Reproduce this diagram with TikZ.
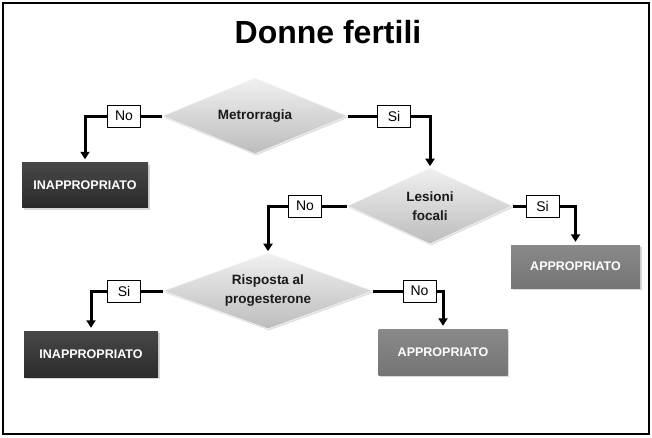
\documentclass[tikz,border=0pt]{standalone}
\usepackage{fontspec}
\setmainfont{Liberation Sans}
\usetikzlibrary{shapes.geometric,arrows.meta,shadows}
\definecolor{darkbox}{HTML}{333333}
\definecolor{graybox}{HTML}{7F7F7F}
\definecolor{dtext}{HTML}{1A1A1A}
\tikzset{
  decision/.style={diamond, aspect=2.45, inner sep=0pt, align=center,
    top color=gray!12, bottom color=gray!52, draw=gray!8, line width=0.6pt,
    drop shadow={shadow xshift=1pt, shadow yshift=-1.5pt, opacity=0.25},
    font=\fontsize{13.5}{19}\selectfont\bfseries, text=dtext},
  answer/.style={draw=black, line width=0.9pt, fill=white, inner sep=0pt,
    minimum width=33pt, minimum height=22pt, font=\fontsize{14}{16}\selectfont},
  resultbox/.style={inner sep=0pt, text=white,
    font=\fontsize{12.5}{15}\selectfont\bfseries,
    drop shadow={shadow xshift=1.5pt, shadow yshift=-2pt, opacity=0.3}},
  inap/.style={resultbox, top color=darkbox!90!white, bottom color=darkbox!85!black},
  appr/.style={resultbox, top color=graybox!92!white, bottom color=graybox!92!black},
  link/.style={line width=3pt, line join=miter},
  flow/.style={link, -{Triangle[width=9pt,length=7.5pt]}, shorten >=3pt},
}
\begin{document}
\begin{tikzpicture}[x=1pt,y=-1pt]
\useasboundingbox (0,0) rectangle (652,437);
\draw[line width=2pt] (3,3) rectangle (649,434);
\node[anchor=base, font=\fontsize{32}{38}\selectfont\bfseries] (title) at (328,43) {Donne fertili};

\node[decision, minimum width=185pt, minimum height=76pt] (d1) at (255,116) {Metrorragia};
\node[decision, minimum width=165pt, minimum height=76pt] (d2) at (430,206) {Lesioni\\focali};
\node[decision, minimum width=210pt, minimum height=76pt] (d3) at (268,291) {Risposta al\\progesterone};

\node[inap, minimum width=126pt, minimum height=45pt] (r1) at (85,185) {INAPPROPRIATO};
\node[appr, minimum width=129pt, minimum height=43pt] (r2) at (575.5,266.5) {APPROPRIATO};
\node[inap, minimum width=134pt, minimum height=46pt] (r3) at (91,354) {INAPPROPRIATO};
\node[appr, minimum width=129pt, minimum height=46pt] (r4) at (443,352) {APPROPRIATO};

\node[answer] (a1) at (124,116) {No};
\node[answer] (a2) at (394,116) {Si};
\node[answer] (a3) at (305,206) {No};
\node[answer] (a4) at (542.5,206) {Si};
\node[answer] (a5) at (124,291) {Si};
\node[answer] (a6) at (419.5,291) {No};

\draw[link] (d1.west) -- (a1.east);
\draw[flow] (a1.west) -| (r1.north);
\draw[link] (d1.east) -- (a2.west);
\draw[flow, shorten >=1.5pt] (a2.east) -| (d2.north);
\draw[link] (d2.west) -- (a3.east);
\draw[flow, shorten >=1.5pt] (a3.west) -| (d3.north);
\draw[link] (d2.east) -- (a4.west);
\draw[flow] (a4.east) -| (r2.north);
\draw[link] (d3.west) -- (a5.east);
\draw[flow] (a5.west) -| (r3.north);
\draw[link] (d3.east) -- (a6.west);
\draw[flow] (a6.east) -| (r4.north);
\end{tikzpicture}
\end{document}
